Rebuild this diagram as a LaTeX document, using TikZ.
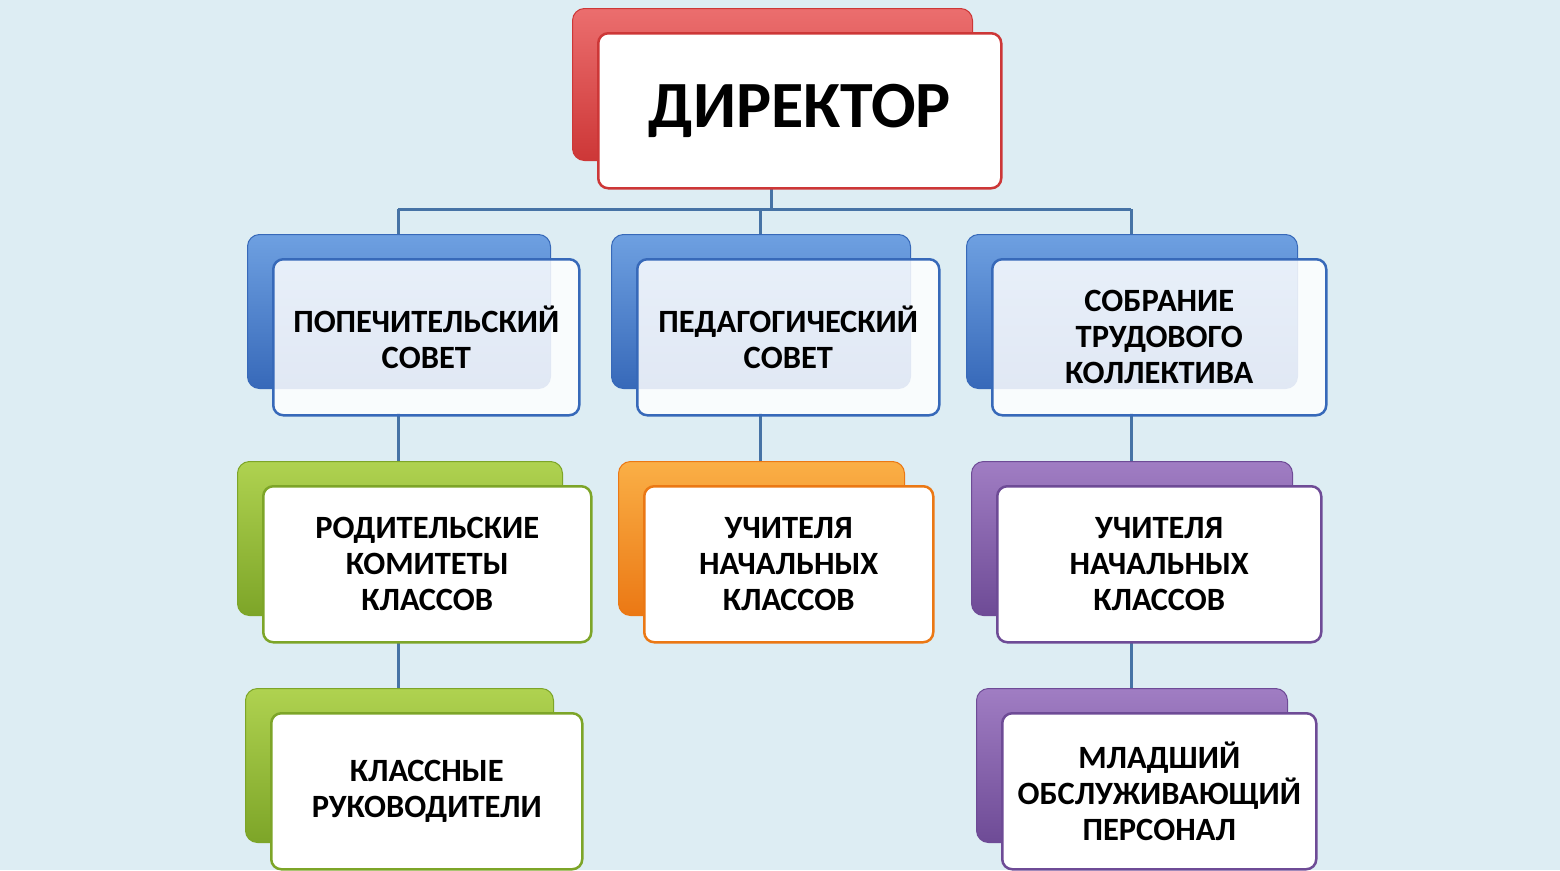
\documentclass[tikz,border=0pt]{standalone}
\usepackage{fontspec}
\setmainfont{Carlito}
\usetikzlibrary{calc}
\definecolor{bg}{RGB}{221,237,243}
\definecolor{ln}{RGB}{70,115,165}
\definecolor{cred}{RGB}{205,55,55}\definecolor{lred}{RGB}{235,110,110}
\definecolor{cblue}{RGB}{55,105,185}\definecolor{lblue}{RGB}{110,160,225}
\definecolor{cgreen}{RGB}{125,165,40}\definecolor{lgreen}{RGB}{175,210,80}
\definecolor{corange}{RGB}{235,120,20}\definecolor{lorange}{RGB}{250,175,70}
\definecolor{cpurple}{RGB}{110,75,150}\definecolor{lpurple}{RGB}{160,125,195}
\tikzset{
 backbox/.style n args={2}{rectangle,rounded corners=12pt,anchor=north west,inner sep=0pt,top color=#2,bottom color=#1,draw=#1,line width=1pt},
 frontbox/.style={rectangle,rounded corners=10pt,anchor=north west,inner sep=0pt,fill=white,text opacity=1,draw=#1,line width=2.5pt,align=center,font=\bfseries\fontsize{32.5pt}{36pt}\selectfont},
 conn/.style={draw=ln,line width=3pt}
}
\newcommand{\bx}[9]{% name, x1,y1,x2,y2, dark, light, text, opacity
 \node[backbox={#6}{#7},minimum width=#4pt-#2pt,minimum height=#5pt-#3pt] (#1b) at (#2,#3) {};
 \node[frontbox=#6,fill opacity=#9,minimum width=#4pt-#2pt+3pt,minimum height=#5pt-#3pt+2pt] (#1) at (#2+25,#3+24) {#8};}
\begin{document}
\begin{tikzpicture}[x=1pt,y=-1pt]
\fill[bg] (0,0) rectangle (1560,870);
\useasboundingbox (0,0) rectangle (1560,870);
% connectors (behind boxes)
\coordinate (hb) at (771,209);
\coordinate (hl) at (398,209);
\coordinate (hm) at (760,209);
\coordinate (hr) at (1131,209);
\draw[conn] (771,187) -- (hb);
\draw[conn] (hl) -- (hr);
\draw[conn] (hl) -- (398,258);
\draw[conn] (hm) -- (760,258);
\draw[conn] (hr) -- (1131,258);
\draw[conn] (398,413) -- (398,712);
\draw[conn] (760,413) -- (760,486);
\draw[conn] (1131,413) -- (1131,712);
% boxes
\node[backbox={cred}{lred},minimum width=400pt,minimum height=152pt] (dirb) at (572,8) {};
\node[frontbox=cred,minimum width=403pt,minimum height=155pt,font=\bfseries\fontsize{66pt}{74pt}\selectfont] (dir) at (597,32) {ДИРЕКТОР};
\bx{a}{247}{234}{550}{388}{cblue}{lblue}{ПОПЕЧИТЕЛЬСКИЙ\\СОВЕТ}{0.85}
\bx{b}{611}{234}{910}{388}{cblue}{lblue}{ПЕДАГОГИЧЕСКИЙ\\СОВЕТ}{0.85}
\bx{c}{966}{234}{1297}{388}{cblue}{lblue}{СОБРАНИЕ\\ТРУДОВОГО\\КОЛЛЕКТИВА}{0.85}
\bx{d}{237}{461}{562}{615}{cgreen}{lgreen}{РОДИТЕЛЬСКИЕ\\КОМИТЕТЫ\\КЛАССОВ}{1}
\bx{e}{618}{461}{904}{615}{corange}{lorange}{УЧИТЕЛЯ\\НАЧАЛЬНЫХ\\КЛАССОВ}{1}
\bx{f}{971}{461}{1292}{615}{cpurple}{lpurple}{УЧИТЕЛЯ\\НАЧАЛЬНЫХ\\КЛАССОВ}{1}
\bx{g}{245}{688}{553}{842}{cgreen}{lgreen}{КЛАССНЫЕ\\РУКОВОДИТЕЛИ}{1}
\bx{h}{976}{688}{1287}{842}{cpurple}{lpurple}{МЛАДШИЙ\\ОБСЛУЖИВАЮЩИЙ\\ПЕРСОНАЛ}{1}
\end{tikzpicture}
\end{document}
